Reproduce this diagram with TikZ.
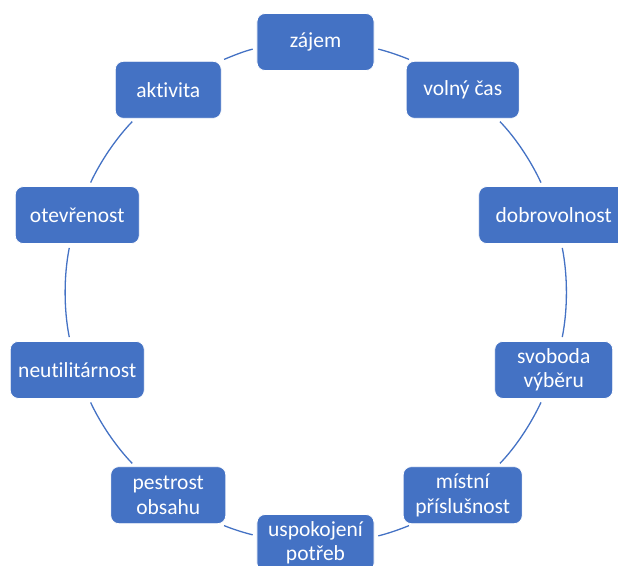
\documentclass[tikz,border=0pt]{standalone}
\usepackage{fontspec}
\setmainfont{Carlito}[Ligatures={NoCommon}]
\definecolor{sablue}{HTML}{4472C4}
\begin{document}
\begin{tikzpicture}[x=1pt,y=1pt,
  box/.style={rectangle, rounded corners=8pt, fill=sablue, draw=white, line width=0.8pt,
    minimum height=57pt, minimum width=117pt, inner sep=2pt, align=center,
    text=white, font=\fontsize{21.5}{24.5}\selectfont},
  link/.style={draw=sablue, line width=1.3pt, looseness=0.855, shorten <=4pt, shorten >=4pt}]
\useasboundingbox (-315.5,-272.5) rectangle (302.5,292.5);
\node[box] (zajem) at (90:250.5) {zájem};
\node[box, minimum width=113pt] (volny) at (54:250.5) {volný čas};
\node[box, minimum width=150pt] (dobro) at (18:250.5) {dobrovolnost};
\node[box, minimum width=118pt] (svoboda) at (-18:250.5) {svoboda\\výběru};
\node[box, minimum width=119pt] (mistni) at (-54:250.5) {místní\\příslušnost};
\node[box] (uspok) at (-90:250.5) {uspokojení\\potřeb};
\node[box, minimum width=115pt] (pestrost) at (-126:250.5) {pestrost\\obsahu};
\node[box, minimum width=134pt] (neutil) at (-162:250.5) {neutilitárnost};
\node[box, minimum width=124pt] (oteve) at (162:250.5) {otevřenost};
\node[box, minimum width=106pt] (aktiv) at (126:250.5) {aktivita};
\draw[link] (zajem.-6.7) to[out=-13.5, in=157.35] (volny.150.7);
\draw[link] (volny.-40.97) to[out=-45.95, in=115.01] (dobro.111.5);
\draw[link] (dobro.-75.37) to[out=-78.74, in=78.74] (svoboda.75.37);
\draw[link] (svoboda.-111.5) to[out=-115.01, in=45.95] (mistni.40.97);
\draw[link] (mistni.-150.7) to[out=-157.35, in=13.5] (uspok.6.7);
\draw[link] (uspok.173.3) to[out=166.5, in=-22.65] (pestrost.-29.3);
\draw[link] (pestrost.139.03) to[out=134.05, in=-64.99] (neutil.-68.5);
\draw[link] (neutil.104.63) to[out=101.26, in=-101.26] (oteve.-104.63);
\draw[link] (oteve.68.5) to[out=64.99, in=225.95] (aktiv.-139.03);
\draw[link] (aktiv.29.3) to[out=22.65, in=193.5] (zajem.186.7);
\end{tikzpicture}
\end{document}
